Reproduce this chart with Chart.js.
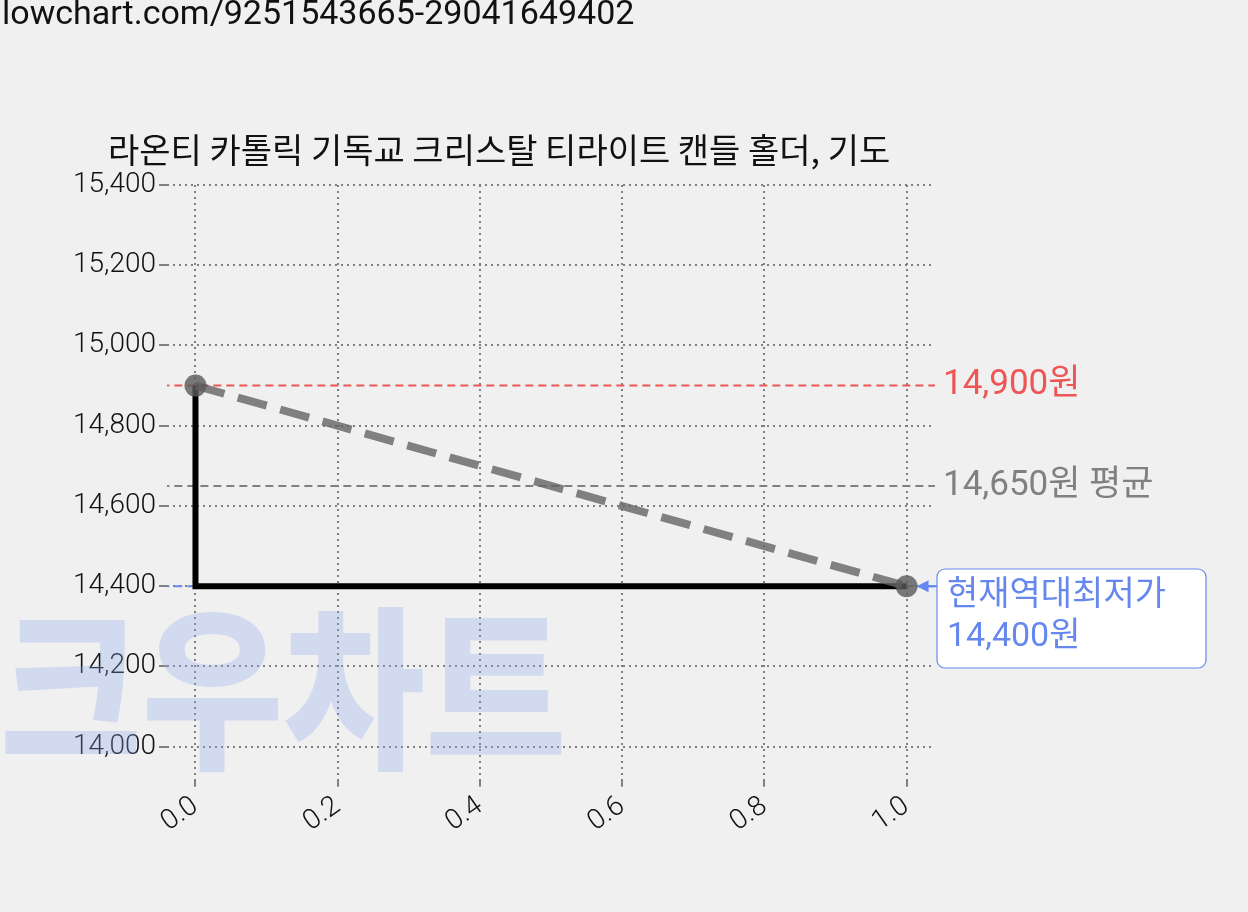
<!DOCTYPE html>
<html><head><meta charset="utf-8">
<script src="https://cdn.jsdelivr.net/npm/chart.js@4"></script>
<style>html,body{margin:0;background:#f0f0f0}#w{width:1248px;height:912px;position:relative}</style>
</head><body><div id="w"><canvas id="c" width="1248" height="912"></canvas></div>
<script>
const title = "라온티 카톨릭 기독교 크리스탈 티라이트 캔들 홀더, 기도";
const urlText = "lowchart.com/9251543665-29041649402";
const xs = [0, 1];
const prices = [14900, 14400];
const stepX = [0, 0, 1];
const stepY = [14900, 14400, 14400];
const maxPrice = 14900, avgPrice = 14650, minPrice = 14400;
const yTicks = [14000,14200,14400,14600,14800,15000,15200,15400];
const xTicks = [0,0.2,0.4,0.6,0.8,1.0];
const F = "Roboto, 'Noto Sans CJK KR', sans-serif";

const pts = (a,b)=>a.map((v,i)=>({x:v,y:b[i]}));
const hline = (v,c)=>({data:[{x:-0.048,y:v},{x:1.04,y:v}],showLine:true,borderColor:c,borderWidth:2,borderDash:[8,5],pointRadius:0,order:3});

const deco = {
  id:'deco',
  beforeDatasetsDraw(ch){
    const c=ch.ctx; c.save();
    c.font="900 175px 'Noto Sans CJK KR'"; c.fillStyle="rgba(140,170,235,0.3)";
    c.textBaseline="alphabetic"; c.translate(0,755); c.scale(0.88,1); c.fillText("크우차트",0,0);
    c.restore();
  },
  afterDraw(ch){
    const c=ch.ctx, xs_=ch.scales.x, ys=ch.scales.y; c.save();
    c.fillStyle="#111"; c.font="34px "+F; c.textBaseline="top";
    c.fillText(urlText,2,-2);
    c.font="34px 'Noto Sans CJK KR'"; c.textBaseline="middle";
    c.fillText(title,108,150);
    c.font="35px "+F;
    c.fillStyle="#ee5555"; c.fillText("14,900원",943,ys.getPixelForValue(maxPrice));
    c.fillStyle="#808080"; c.fillText("14,650원 평균",943,ys.getPixelForValue(avgPrice));
    const y=ys.getPixelForValue(minPrice), x=xs_.getPixelForValue(1);
    c.strokeStyle="#6688ee"; c.fillStyle="#6688ee"; c.lineWidth=2;
    c.beginPath(); c.moveTo(937,y); c.lineTo(x+12,y); c.stroke();
    c.beginPath(); c.moveTo(x+10,y); c.lineTo(x+22,y-6); c.lineTo(x+22,y+6); c.fill();
    c.fillStyle="#fff"; c.lineWidth=1.2;
    c.beginPath(); c.roundRect(937,569,269,99,8); c.fill(); c.stroke();
    c.fillStyle="#6688ee"; c.font="34px "+F; c.fillText("현재역대최저가",947,596); c.fillText("14,400원",947,637);
    c.restore();
  }
};

new Chart(document.getElementById('c'),{
  type:'scatter',
  data:{datasets:[
    hline(maxPrice,'#ee5555'), hline(avgPrice,'#808080'), hline(minPrice,'#6688ee'),
    {data:pts(xs,prices),showLine:true,borderColor:'rgba(100,100,100,0.8)',borderWidth:8,borderDash:[30,14],
     pointRadius:11,pointBackgroundColor:'rgba(90,90,90,0.8)',pointBorderWidth:0,order:1},
    {data:pts(stepX,stepY),showLine:true,borderColor:'#000',borderWidth:6,pointRadius:0,order:2}
  ]},
  options:{responsive:false,animation:false,
    layout:{padding:{left:70,right:313,top:185,bottom:70}},
    plugins:{legend:{display:false},tooltip:{enabled:false}},
    scales:{
      x:{min:-0.04,max:1.04,afterBuildTicks(s){s.ticks=xTicks.map(v=>({value:v}));},
        grid:{color:'#808080',lineWidth:2,tickLength:8},border:{display:false,dash:[2,4]},
        ticks:{color:'#111',font:{family:F,size:28,weight:'300'},maxRotation:35,minRotation:35,callback:v=>v.toFixed(1)}},
      y:{min:13920,max:15400,afterBuildTicks(s){s.ticks=yTicks.map(v=>({value:v}));},
        grid:{color:'#808080',lineWidth:2,tickLength:8},border:{display:false,dash:[2,4]},
        ticks:{color:'#111',font:{family:F,size:28,weight:'300'},callback:v=>v.toLocaleString('en-US')}}
    }},
  plugins:[deco]
});
</script></body></html>
